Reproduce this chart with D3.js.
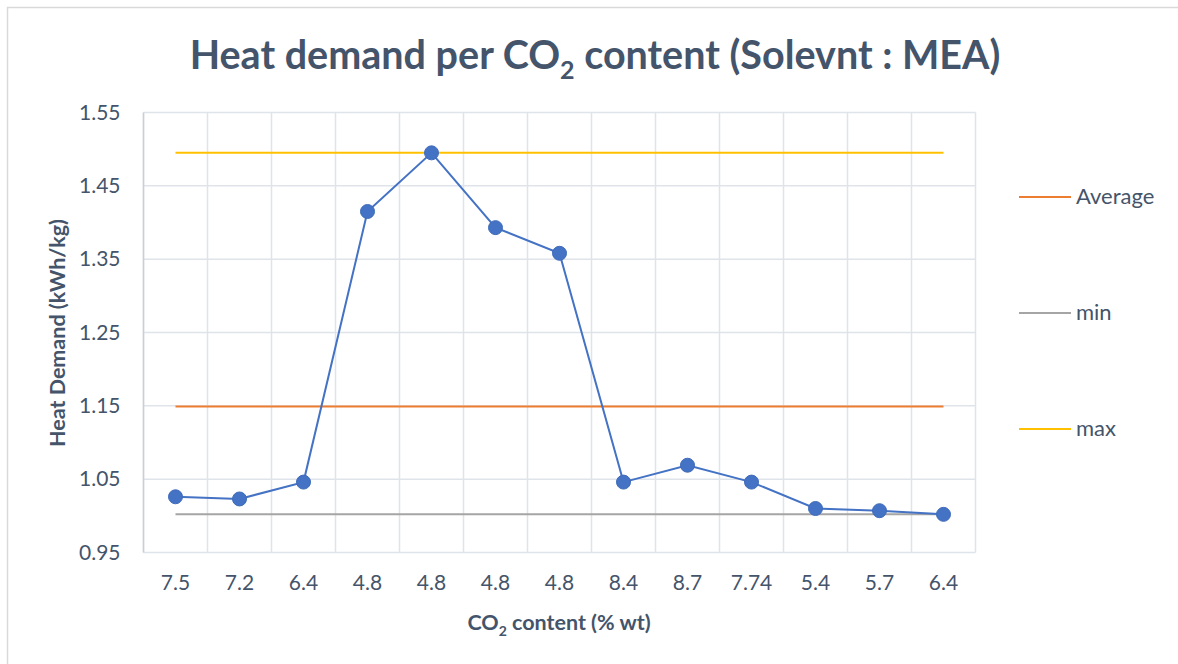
<!DOCTYPE html>
<html>
<head>
<meta charset="utf-8">
<script src="https://cdn.jsdelivr.net/npm/d3@7"></script>
<style>
  html, body { margin: 0; padding: 0; background: #fff; }
  svg { display: block; }
  text { font-family: Lato, "Open Sans", "Noto Sans", sans-serif; fill: #44546A; }
</style>
</head>
<body>
<svg id="chart" width="1178" height="664"></svg>
<script>
// CO2 content of each sample (% wt), in measurement order
const categories = ["7.5", "7.2", "6.4", "4.8", "4.8", "4.8", "4.8", "8.4", "8.7", "7.74", "5.4", "5.7", "6.4"];
// Heat demand (kWh/kg) per sample
const heatDemand = [1.026, 1.023, 1.046, 1.415, 1.495, 1.393, 1.358, 1.046, 1.069, 1.046, 1.010, 1.007, 1.002];
// Reference levels
const averageValue = 1.149;
const minValue = 1.002;
const maxValue = 1.495;
// Y axis ticks
const yTicks = [0.95, 1.05, 1.15, 1.25, 1.35, 1.45, 1.55];

const refSeries = [
  { name: "Average", value: averageValue, color: "#ED7D31" },
  { name: "min", value: minValue, color: "#A5A5A5" },
  { name: "max", value: maxValue, color: "#FFC000" }
];

const svg = d3.select("#chart");
const plot = { left: 143.5, right: 975.5, top: 112.5, bottom: 552.5 };

// chart frame
svg.append("rect")
  .attr("x", 7.5).attr("y", 7.5)
  .attr("width", 1200).attr("height", 700)
  .attr("fill", "#fff").attr("stroke", "#D9D9D9").attr("stroke-width", 1.5);

const x = d3.scaleBand()
  .domain(d3.range(categories.length))
  .range([plot.left, plot.right])
  .paddingInner(0).paddingOuter(0);

const y = d3.scaleLinear()
  .domain([0.95, 1.55])
  .range([plot.bottom, plot.top]);

const cx = i => x(i) + x.bandwidth() / 2;

// horizontal gridlines
svg.append("g")
  .selectAll("line")
  .data(yTicks)
  .join("line")
  .attr("x1", plot.left).attr("x2", plot.right)
  .attr("y1", d => y(d)).attr("y2", d => y(d))
  .attr("stroke", "#DFE3EA").attr("stroke-width", 1.5);

// vertical gridlines on category boundaries
svg.append("g")
  .selectAll("line")
  .data(d3.range(categories.length + 1))
  .join("line")
  .attr("x1", i => i < categories.length ? x(i) : plot.right)
  .attr("x2", i => i < categories.length ? x(i) : plot.right)
  .attr("y1", plot.top).attr("y2", plot.bottom)
  .attr("stroke", "#DFE3EA").attr("stroke-width", 1.5);

// left axis line
svg.append("line")
  .attr("x1", plot.left).attr("x2", plot.left)
  .attr("y1", plot.top).attr("y2", plot.bottom)
  .attr("stroke", "#C9CED8").attr("stroke-width", 1.5);

// y axis labels
const yAxis = d3.axisLeft(y).tickValues(yTicks).tickFormat(d3.format(".2f")).tickSize(0).tickPadding(0);
const gy = svg.append("g").attr("transform", `translate(${plot.left - 23},0)`).call(yAxis);
gy.select(".domain").remove();
gy.selectAll("text")
  .attr("font-size", 21).attr("fill", "#44546A")
  .attr("font-family", "Lato, 'Open Sans', sans-serif");

// x axis labels
const xAxis = d3.axisBottom(x).tickFormat(i => categories[i]).tickSize(0).tickPadding(0);
const gx = svg.append("g").attr("transform", `translate(0,${plot.bottom + 23})`).call(xAxis);
gx.select(".domain").remove();
gx.selectAll("text")
  .attr("font-size", 21).attr("fill", "#44546A")
  .attr("font-family", "Lato, 'Open Sans', sans-serif");

// reference lines
svg.append("g")
  .selectAll("line")
  .data(refSeries)
  .join("line")
  .attr("x1", cx(0)).attr("x2", cx(categories.length - 1))
  .attr("y1", d => y(d.value)).attr("y2", d => y(d.value))
  .attr("stroke", d => d.color).attr("stroke-width", 2);

// heat demand series
const line = d3.line().x((d, i) => cx(i)).y(d => y(d));
svg.append("path")
  .datum(heatDemand)
  .attr("d", line)
  .attr("fill", "none")
  .attr("stroke", "#4472C4")
  .attr("stroke-width", 2);

svg.append("g")
  .selectAll("circle")
  .data(heatDemand)
  .join("circle")
  .attr("cx", (d, i) => cx(i))
  .attr("cy", d => y(d))
  .attr("r", 7)
  .attr("fill", "#4472C4")
  .attr("stroke", "#3F6BBA")
  .attr("stroke-width", 1);

// title
const title = svg.append("text")
  .attr("x", 595).attr("y", 69)
  .attr("text-anchor", "middle")
  .attr("font-size", 39.5).attr("font-weight", "bold");
title.append("tspan").text("Heat demand per CO");
title.append("tspan").text("2").attr("font-size", 25).attr("dy", 10);
title.append("tspan").text(" content (Solevnt : MEA)").attr("dy", -10);

// y axis title
svg.append("text")
  .attr("transform", "translate(65,333) rotate(-90)")
  .attr("text-anchor", "middle")
  .attr("font-size", 21.5).attr("font-weight", "bold")
  .text("Heat Demand (kWh/kg)");

// x axis title
const xt = svg.append("text")
  .attr("x", 559).attr("y", 630)
  .attr("text-anchor", "middle")
  .attr("font-size", 21.5).attr("font-weight", "bold");
xt.append("tspan").text("CO");
xt.append("tspan").text("2").attr("font-size", 14).attr("dy", 6);
xt.append("tspan").text(" content (% wt)").attr("dy", -6);

// legend
const legend = svg.append("g")
  .selectAll("g")
  .data(refSeries)
  .join("g")
  .attr("transform", (d, i) => `translate(1019,${197 + i * 116})`);
legend.append("line")
  .attr("x1", 0).attr("x2", 52)
  .attr("stroke", d => d.color).attr("stroke-width", 2);
legend.append("text")
  .attr("x", 57).attr("y", 7)
  .attr("font-size", 22)
  .text(d => d.name);
</script>
</body>
</html>
